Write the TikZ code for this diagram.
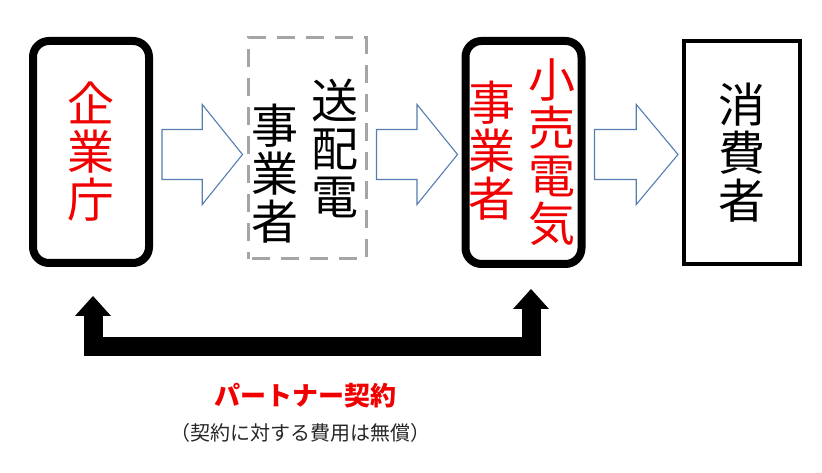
\documentclass[tikz,border=0pt]{standalone}
\usepackage{fontspec}
\setmainfont{Noto Sans CJK JP}
\usetikzlibrary{arrows.meta,calc}
\tikzset{>=stealth}
\definecolor{kred}{RGB}{240,0,0}
\definecolor{arrowblue}{RGB}{85,125,175}
\definecolor{dashgray}{RGB}{165,165,165}

\begin{document}
\begin{tikzpicture}[x=1pt,y=1pt,
  vtext/.style={align=center,inner sep=0pt,font=\fontsize{47}{48}\selectfont},
  thickbox/.style={draw,line width=8pt,rounded corners=16pt,minimum width=116pt,minimum height=222pt,inner sep=0pt},
  thinbox/.style={draw,line width=4pt,minimum width=116pt,minimum height=223pt,inner sep=0pt},
  dashbox/.style={draw=dashgray,line width=3pt,dash pattern=on 18pt off 11pt,dash phase=-4pt,minimum width=118pt,minimum height=221pt},
  hollow/.style={draw=arrowblue,line width=1.1pt,fill=white,line join=miter},
  bracket/.style={line width=19pt,line join=miter,
    {Triangle[width=36pt,length=20pt,line width=0pt]}-{Triangle[width=36pt,length=20pt,line width=0pt]}}]
\useasboundingbox (0,0) rectangle (822,473);
\node[thickbox,vtext,text=kred] (kigyo) at (91,321) {企\\業\\庁};
\node[dashbox] (soden) at (307,324.5) {};
\node[vtext] (sodenR) at (335,325) {送\\配\\電};
\node[vtext] (sodenL) at (275,299.5) {事\\業\\者};
\node[thickbox,minimum height=223pt] (kouri) at (523.5,320.5) {};
\node[vtext,text=kred] (kouriR) at (552,320.5) {小\\売\\電\\気};
\node[vtext,text=kred] (kouriL) at (492,322) {事\\業\\者};
\node[thinbox,vtext] (shohi) at (742,320.5) {消\\費\\者};
\coordinate (axis) at (0,318.5);
\foreach \a/\b in {kigyo/soden,soden/kouri,kouri/shohi}{
  \coordinate (s) at ($(\a.east|-axis)+(9,0)$);
  \coordinate (e) at ($(\b.west|-axis)+(-4,0)$);
  \coordinate (m) at ($(s)!0.5!(e)$);
  \draw[hollow] ($(s)+(0,25)$) -- ($(m)+(0,25)$) -- ($(m)+(0,50)$) -- (e)
    -- ($(m)+(0,-50)$) -- ($(m)+(0,-25)$) -- ($(s)+(0,-25)$) -- cycle;
}
\coordinate (lt) at ($(kigyo.south)+(2,-29)$);
\coordinate (rt) at ($(kouri.south)+(7.5,-21)$);
\draw[bracket] (lt) -- (lt|-0,126.5) -- (rt|-0,126.5) -- (rt);
\node[text=kred,font=\fontsize{26}{28}\selectfont\bfseries] (partner) at (305,77) {パートナー契約};
\node[text=black!85,font=\fontsize{20}{22}\selectfont] (muryo) at (300,40.5) {（契約に対する費用は無償）};
\end{tikzpicture}
\end{document}
